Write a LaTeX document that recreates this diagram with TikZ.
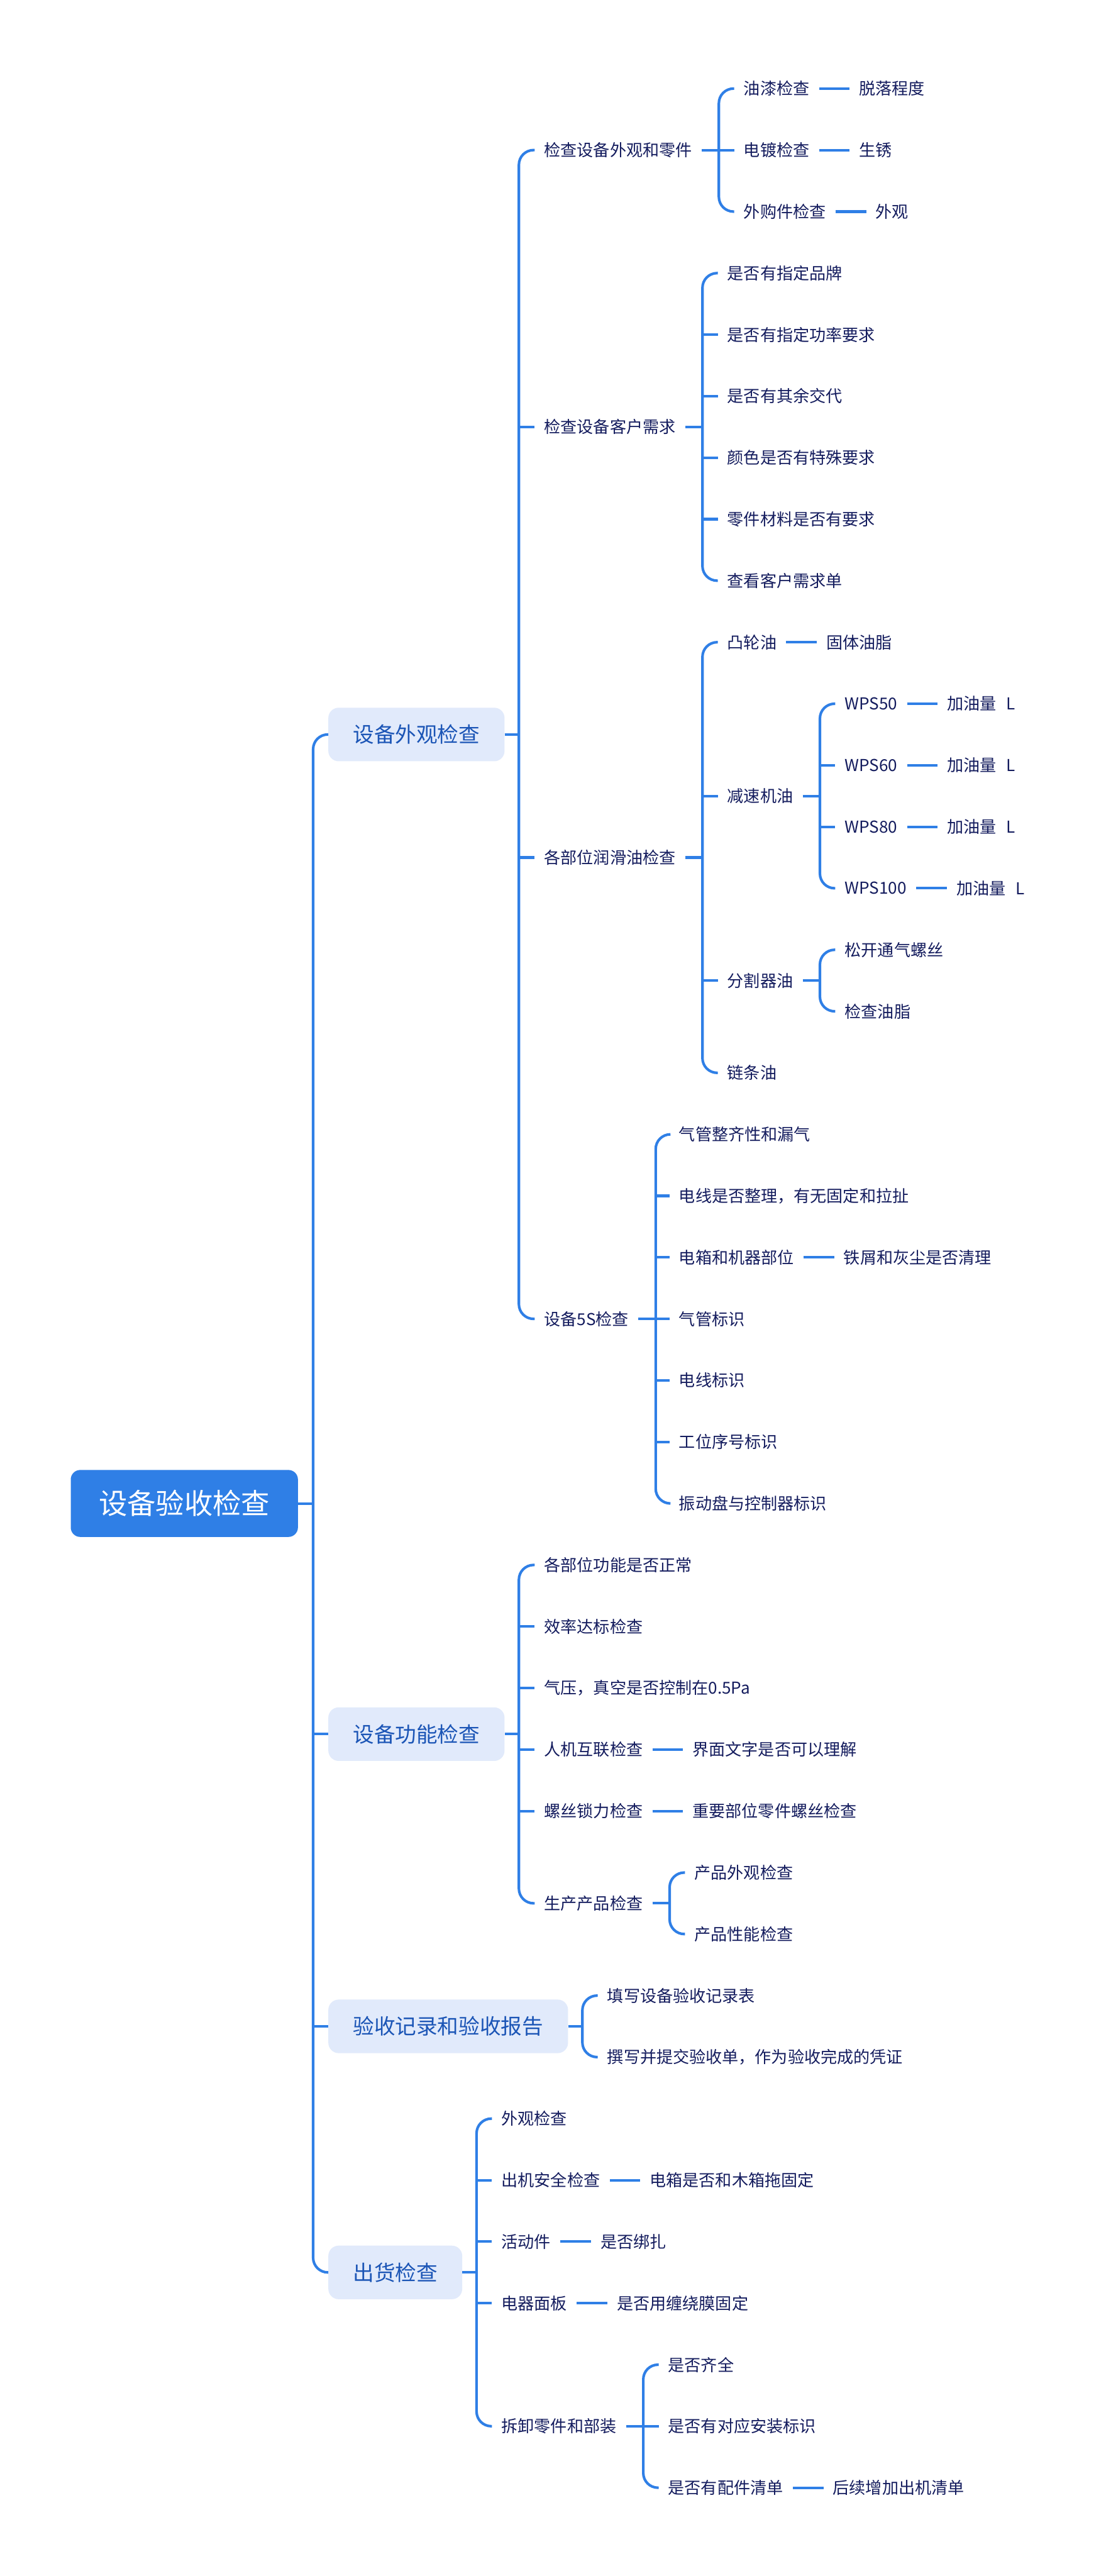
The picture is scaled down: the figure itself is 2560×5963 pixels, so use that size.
\documentclass[tikz,border=0pt]{standalone}
\usepackage{fontspec}
\setmainfont{Noto Sans CJK SC}
\usepackage{xcolor}
\usepackage{tikz}
\usetikzlibrary{positioning}
\definecolor{linecol}{HTML}{2F7FE6}
\definecolor{rootcol}{HTML}{2F7FE6}
\definecolor{topicfill}{HTML}{E1EAFB}
\definecolor{topictext}{HTML}{1B55B6}
\definecolor{leaftext}{HTML}{141C5E}
\tikzset{
conn/.style={draw=linecol,line width=6pt,rounded corners=34pt},
leaf/.style={anchor=west,text=leaftext,font=\fontsize{38pt}{46pt}\selectfont,inner xsep=22pt,inner ysep=4pt},
topic/.style={anchor=west,fill=topicfill,text=topictext,font=\fontsize{49pt}{58pt}\selectfont,rounded corners=24pt,inner xsep=57pt,minimum height=124pt},
rootbox/.style={anchor=east,fill=rootcol,text=white,font=\fontsize{66pt}{78pt}\selectfont,rounded corners=22pt,inner xsep=65pt,minimum height=155pt}
}

\begin{document}
\begin{tikzpicture}[x=1pt,y=-142.4pt]
\useasboundingbox[fill=white](0pt,205pt)rectangle(2560pt,-5758pt);

\node[rootbox](root)at(690,23){设备验收检查};
\node[topic](t1)at(760,10.5){设备外观检查};
\node[topic](t2)at(760,26.75){设备功能检查};
\node[topic](t3)at(760,31.5){验收记录和验收报告};
\node[topic](t4)at(760,35.5){出货检查};

\node[leaf](s1)at(1238,1){检查设备外观和零件};
\node[leaf](s2)at(1238,5.5){检查设备客户需求};
\node[leaf](s3)at(1238,12.5){各部位润滑油检查};
\node[leaf](s4)at(1238,20){设备5S检查};

\node[leaf](a1)at(1700,0){油漆检查};
\node[leaf,right=71pt of a1](a1v){脱落程度};
\node[leaf](a2)at(1700,1){电镀检查};
\node[leaf,right=71pt of a2](a2v){生锈};
\node[leaf](a3)at(1700,2){外购件检查};
\node[leaf,right=71pt of a3](a3v){外观};

\node[leaf](b1)at(1662,3){是否有指定品牌};
\node[leaf](b2)at(1662,4){是否有指定功率要求};
\node[leaf](b3)at(1662,5){是否有其余交代};
\node[leaf](b4)at(1662,6){颜色是否有特殊要求};
\node[leaf](b5)at(1662,7){零件材料是否有要求};
\node[leaf](b6)at(1662,8){查看客户需求单};

\node[leaf](c1)at(1662,9){凸轮油};
\node[leaf,right=71pt of c1](c1v){固体油脂};
\node[leaf](c2)at(1662,11.5){减速机油};
\node[leaf](c3)at(1662,14.5){分割器油};
\node[leaf](c4)at(1662,16){链条油};

\node[leaf](d1)at(1934,10){WPS50};
\node[leaf](d2)at(1934,11){WPS60};
\node[leaf](d3)at(1934,12){WPS80};
\node[leaf](d4)at(1934,13){WPS100};
\foreach \d in {d1,d2,d3,d4}
  \node[leaf,right=71pt of \d](\d v){加油量\hspace{0.6em}L};

\node[leaf](e1)at(1934,14){松开通气螺丝};
\node[leaf](e2)at(1934,15){检查油脂};

\node[leaf](f1)at(1550,17){气管整齐性和漏气};
\node[leaf](f2)at(1550,18){电线是否整理，有无固定和拉扯};
\node[leaf](f3)at(1550,19){电箱和机器部位};
\node[leaf,right=71pt of f3](f3v){铁屑和灰尘是否清理};
\node[leaf](f4)at(1550,20){气管标识};
\node[leaf](f5)at(1550,21){电线标识};
\node[leaf](f6)at(1550,22){工位序号标识};
\node[leaf](f7)at(1550,23){振动盘与控制器标识};

\node[leaf](g1)at(1238,24){各部位功能是否正常};
\node[leaf](g2)at(1238,25){效率达标检查};
\node[leaf](g3)at(1238,26){气压，真空是否控制在0.5Pa};
\node[leaf](g4)at(1238,27){人机互联检查};
\node[leaf,right=71pt of g4](g4v){界面文字是否可以理解};
\node[leaf](g5)at(1238,28){螺丝锁力检查};
\node[leaf,right=71pt of g5](g5v){重要部位零件螺丝检查};
\node[leaf](g6)at(1238,29.5){生产产品检查};
\node[leaf](h1)at(1586,29){产品外观检查};
\node[leaf](h2)at(1586,30){产品性能检查};

\node[leaf](k1)at(1384,31){填写设备验收记录表};
\node[leaf](k2)at(1384,32){撰写并提交验收单，作为验收完成的凭证};

\node[leaf](m1)at(1139,33){外观检查};
\node[leaf](m2)at(1139,34){出机安全检查};
\node[leaf,right=71pt of m2](m2v){电箱是否和木箱拖固定};
\node[leaf](m3)at(1139,35){活动件};
\node[leaf,right=71pt of m3](m3v){是否绑扎};
\node[leaf](m4)at(1139,36){电器面板};
\node[leaf,right=71pt of m4](m4v){是否用缠绕膜固定};
\node[leaf](m5)at(1139,38){拆卸零件和部装};
\node[leaf](n1)at(1525,37){是否齐全};
\node[leaf](n2)at(1525,38){是否有对应安装标识};
\node[leaf](n3)at(1525,39){是否有配件清单};
\node[leaf,right=71pt of n3](n3v){后续增加出机清单};

\path(root.east)++(35,0)coordinate(rootj);
\draw[conn](root.east)--(rootj);
\draw[conn](t1.west)-|(rootj)|-(t4.west);
\foreach \c in {t2,t3} \draw[conn](rootj|-\c.west)--(\c.west);

\path(t1.east)++(33,0)coordinate(t1j);
\draw[conn](t1.east)--(t1j);
\draw[conn](s1.west)-|(t1j)|-(s4.west);
\foreach \c in {s2,s3} \draw[conn](t1j|-\c.west)--(\c.west);

\path(s1.east)++(40,0)coordinate(s1j);
\draw[conn](s1.east)--(s1j);
\draw[conn](a1.west)-|(s1j)|-(a3.west);
\draw[conn](s1j|-a2.west)--(a2.west);

\path(s2.east)++(40,0)coordinate(s2j);
\draw[conn](s2.east)--(s2j);
\draw[conn](b1.west)-|(s2j)|-(b6.west);
\foreach \c in {b2,b3,b4,b5} \draw[conn](s2j|-\c.west)--(\c.west);

\path(s3.east)++(40,0)coordinate(s3j);
\draw[conn](s3.east)--(s3j);
\draw[conn](c1.west)-|(s3j)|-(c4.west);
\foreach \c in {c2,c3} \draw[conn](s3j|-\c.west)--(\c.west);

\path(c2.east)++(40,0)coordinate(c2j);
\draw[conn](c2.east)--(c2j);
\draw[conn](d1.west)-|(c2j)|-(d4.west);
\foreach \c in {d2,d3} \draw[conn](c2j|-\c.west)--(\c.west);

\path(c3.east)++(40,0)coordinate(c3j);
\draw[conn](c3.east)--(c3j);
\draw[conn](e1.west)-|(c3j)|-(e2.west);

\path(s4.east)++(40,0)coordinate(s4j);
\draw[conn](s4.east)--(s4j);
\draw[conn](f1.west)-|(s4j)|-(f7.west);
\foreach \c in {f2,f3,f4,f5,f6} \draw[conn](s4j|-\c.west)--(\c.west);

\path(t2.east)++(33,0)coordinate(t2j);
\draw[conn](t2.east)--(t2j);
\draw[conn](g1.west)-|(t2j)|-(g6.west);
\foreach \c in {g2,g3,g4,g5} \draw[conn](t2j|-\c.west)--(\c.west);

\path(g6.east)++(40,0)coordinate(g6j);
\draw[conn](g6.east)--(g6j);
\draw[conn](h1.west)-|(g6j)|-(h2.west);

\path(t3.east)++(33,0)coordinate(t3j);
\draw[conn](t3.east)--(t3j);
\draw[conn](k1.west)-|(t3j)|-(k2.west);

\path(t4.east)++(33,0)coordinate(t4j);
\draw[conn](t4.east)--(t4j);
\draw[conn](m1.west)-|(t4j)|-(m5.west);
\foreach \c in {m2,m3,m4} \draw[conn](t4j|-\c.west)--(\c.west);

\path(m5.east)++(40,0)coordinate(m5j);
\draw[conn](m5.east)--(m5j);
\draw[conn](n1.west)-|(m5j)|-(n3.west);
\draw[conn](m5j|-n2.west)--(n2.west);

\foreach \p in {a1,a2,a3,c1,d1,d2,d3,d4,f3,g4,g5,m2,m3,m4,n3}
  \draw[conn](\p.east)--(\p v.west);
\end{tikzpicture}
\end{document}
